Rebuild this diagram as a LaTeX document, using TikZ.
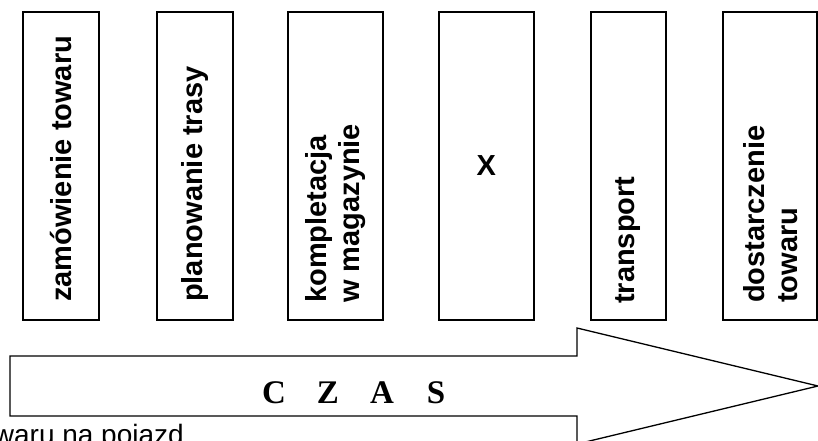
\documentclass[tikz,border=0pt]{standalone}
\usepackage{fontspec}
\setmainfont{Liberation Sans}
\newfontfamily\czasfont{Liberation Serif}
\begin{document}
\begin{tikzpicture}[x=1pt, y=-1pt,
  etap/.style = {draw, line width=2pt, minimum height=308pt, inner sep=0pt},
  opis/.style = {rotate=90, anchor=west, align=left, inner sep=0pt,
                 font=\fontsize{29}{33}\selectfont\bfseries},
  czas/.style = {anchor=base, inner sep=0pt, font=\fontsize{33}{36}\czasfont\bfseries}]

\useasboundingbox (0,0) rectangle (818,441);

% etapy
\node[etap, minimum width=76pt] (zamowienie) at (61,166) {};
\node[etap, minimum width=76pt] (planowanie) at (194.5,166) {};
\node[etap, minimum width=95pt] (kompletacja) at (335.7,166) {};
\node[etap, minimum width=95pt] (x) at (486.3,166) {\fontsize{29}{33}\selectfont\bfseries X};
\node[etap, minimum width=75pt] (transport) at (628.3,166) {};
\node[etap, minimum width=94pt] (dostarczenie) at (770.2,166) {};

\node[opis] (t1) at ([yshift=19pt]zamowienie.south) {zamówienie towaru};
\node[opis] (t2) at ([yshift=19pt]planowanie.south) {planowanie trasy};
\node[opis] (t3) at ([yshift=18pt]kompletacja.south) {kompletacja\\w magazynie};
\node[opis] (t5) at ([yshift=17pt]transport.south) {transport};
\node[opis] (t6) at ([yshift=18pt]dostarczenie.south) {dostarczenie\\towaru};

% strzalka czasu
\draw[line width=1.3pt] (10,356) -- (577,356) -- (577,328) -- (818,386)
  -- (577,444) -- (577,416) -- (10,416) -- cycle;
\foreach \l [count=\i] in {C,Z,A,S} {\node[czas] (c\i) at (220+54*\i,403) {\l};}

\node[anchor=base east, inner sep=0pt, font=\fontsize{28}{32}\selectfont] (zaladunek) at (184,444) {waru na pojazd};

\end{tikzpicture}
\end{document}
